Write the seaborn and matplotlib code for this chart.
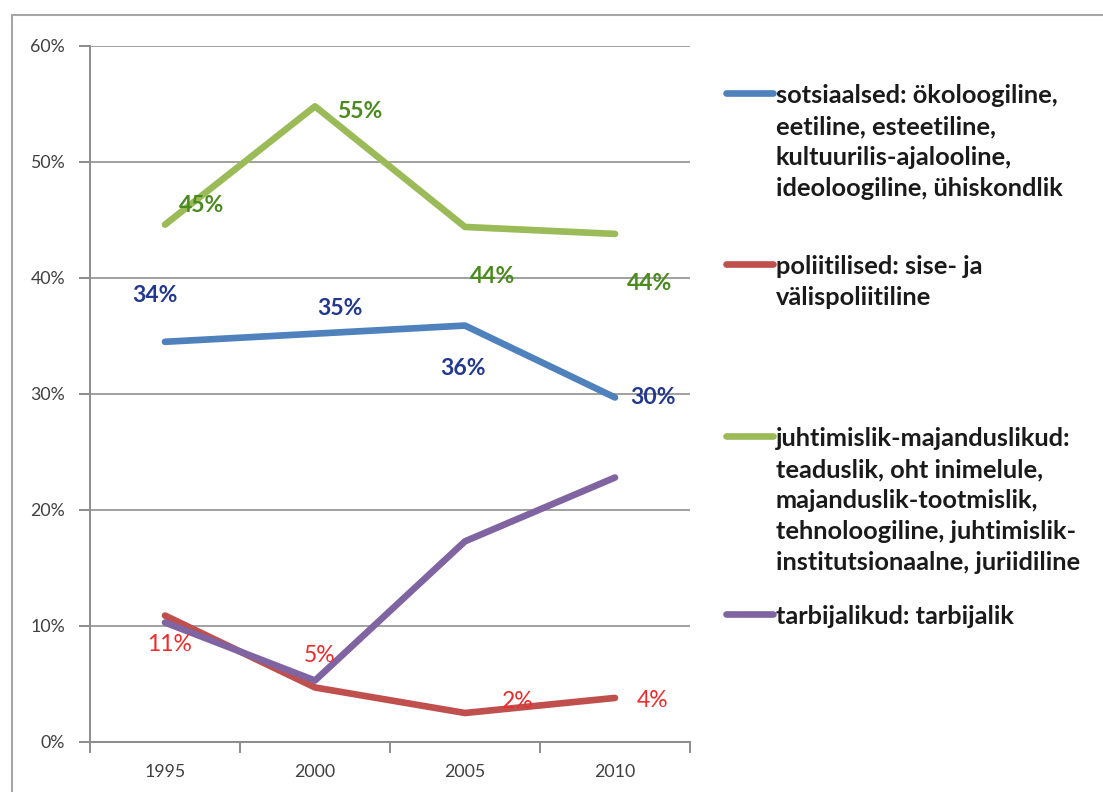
import numpy as np
import pandas as pd
import seaborn as sns
import matplotlib.pyplot as plt
from matplotlib.patches import Rectangle
from matplotlib.ticker import FuncFormatter

# Data (percent).
years = [1995, 2000, 2005, 2010]
sotsiaalsed = [34.5, 35.2, 35.9, 29.7]
poliitilised = [10.9, 4.7, 2.5, 3.8]
juhtimislik = [44.6, 54.8, 44.4, 43.8]
tarbijalikud = [10.3, 5.3, 17.3, 22.8]

# Data labels as printed on the chart.
labels_sots = ['34%', '35%', '36%', '30%']
labels_pol = ['11%', '5%', '2%', '4%']
labels_juh = ['45%', '55%', '44%', '44%']

groups = [
    'sotsiaalsed: ökoloogiline,\neetiline, esteetiline,\nkultuurilis-ajalooline,\nideoloogiline, ühiskondlik',
    'poliitilised: sise- ja\nvälispoliitiline',
    'juhtimislik-majanduslikud:\nteaduslik, oht inimelule,\nmajanduslik-tootmislik,\ntehnoloogiline, juhtimislik-\ninstitutsionaalne, juriidiline',
    'tarbijalikud: tarbijalik',
]
colors = ['#4f81bd', '#c0504d', '#9bbb59', '#8064a2']

df = pd.DataFrame({
    'aasta': years * 4,
    'osakaal': sotsiaalsed + poliitilised + juhtimislik + tarbijalikud,
    'grupp': [g for g in groups for _ in years],
})

sns.set_style('white')
plt.rcParams['font.family'] = ['Lato', 'DejaVu Sans']

fig = plt.figure(figsize=(11.03, 7.92), dpi=100)
ax = fig.add_axes([90 / 1103, 1 - 742 / 792, 600 / 1103, 696 / 792])

# Grey frame round the chart.
fig.patches.append(Rectangle((12 / 1103, -0.1), 1.2, 1 - 15 / 792 + 0.1,
                             transform=fig.transFigure, fill=False,
                             edgecolor='#a6a6a6', lw=1.5))

sns.lineplot(data=df, x='aasta', y='osakaal', hue='grupp', hue_order=groups,
             palette=colors, linewidth=4.8, legend=False, ax=ax,
             solid_capstyle='round')

# Axes styling.
grey = '#8c8c8c'
ax.set_xlim(1992.5, 2012.5)
ax.set_ylim(0, 60)
ax.set_yticks(range(0, 61, 10))
ax.yaxis.set_major_formatter(FuncFormatter(lambda v, p: f'{v:.0f}%'))
ax.set_xticks(years)
ax.set_xticks([1992.5, 1997.5, 2002.5, 2007.5, 2012.5], minor=True)
ax.set_xlabel('')
ax.set_ylabel('')
ax.grid(axis='y', color='#a0a0a0', lw=1.4)
ax.grid(axis='x', visible=False)
for s in ['top', 'right']:
    ax.spines[s].set_visible(False)
for s in ['left', 'bottom']:
    ax.spines[s].set_color(grey)
    ax.spines[s].set_linewidth(1.4)
ax.tick_params(axis='y', which='major', direction='out', length=8, width=1.4,
               color=grey, pad=10, labelsize=12.8, labelcolor='#404040', left=True)
ax.tick_params(axis='x', which='major', length=0, pad=16, labelsize=12.8,
               labelcolor='#404040')
ax.tick_params(axis='x', which='minor', direction='out', length=8, width=1.4,
               color=grey, bottom=True)

# Data labels (offsets in pixels from the point).
offs_juh = [(37, 19), (45, -5), (28, -50), (35, -50)]
offs_sots = [(-10, 46), (25, 25), (-2, -43), (38, 0)]
offs_pol = [(5, -29), (5, 32), (53, 12), (38, -3)]
for vals, labs, offs, col, wt in [
        (juhtimislik, labels_juh, offs_juh, '#4a8a1e', 'bold'),
        (sotsiaalsed, labels_sots, offs_sots, '#22388f', 'bold'),
        (poliitilised, labels_pol, offs_pol, '#ee2a2a', 'normal')]:
    for x, v, t, o in zip(years, vals, labs, offs):
        ax.annotate(t, xy=(x, v), xytext=o, textcoords='offset pixels',
                    ha='center', va='center', color=col, fontsize=16.5,
                    fontweight=wt)

# Legend: one box per entry so the vertical gaps match.
lines = ax.get_lines()
tops = [84, 255, 427, 605]
for line, label, top in zip(lines, groups, tops):
    leg = fig.legend([line], [label], loc='upper left',
                     bbox_to_anchor=(726 / 1103, 1 - top / 792),
                     frameon=False, borderpad=0, borderaxespad=0,
                     handlelength=1.84, handletextpad=0.12,
                     prop={'size': 18.3, 'weight': 'bold'})
    for t in leg.get_texts():
        t.set_linespacing(1.42)
        t.set_color('#1a1a1a')
    for col in leg._legend_handle_box.get_children():
        for row in col.get_children():
            row.align = 'top'

fig.savefig('out.png', dpi=100)
